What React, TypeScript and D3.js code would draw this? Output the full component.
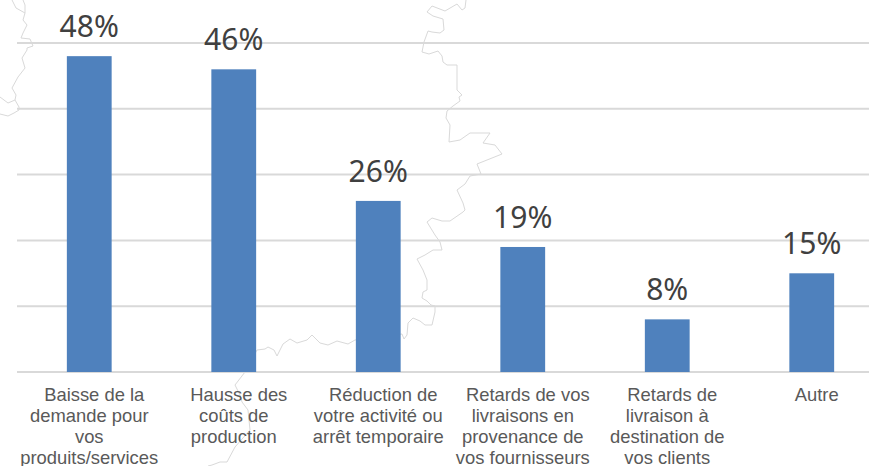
import React from 'react'
import * as d3 from 'd3'

const categories = [
  ['Baisse de la', 'demande pour', 'vos', 'produits/services'],
  ['Hausse des', 'coûts de', 'production'],
  ['Réduction de', 'votre activité ou', 'arrêt temporaire'],
  ['Retards de vos', 'livraisons en', 'provenance de', 'vos fournisseurs'],
  ['Retards de', 'livraison à', 'destination de', 'vos clients'],
  ['Autre'],
]
const values = [48, 46, 26, 19, 8, 15]
const gridTicks = [0, 10, 20, 30, 40, 50]

// faint map borders behind the chart, traced by hand (pixels)
const borderMain: [number, number][] = [
  [466, 0], [465, 8], [462, 10], [457, 4], [445, 11], [432, 6], [427, 12], [433, 16], [443, 19], [444, 30],
  [440, 33], [432, 32], [428, 31], [424, 42], [422, 52], [429, 54], [438, 51], [442, 56], [443, 62], [447, 65],
  [457, 65], [457, 90], [462, 95], [459, 97], [460, 101], [453, 106], [447, 111], [446, 118], [450, 125], [449, 142],
  [460, 140], [470, 133], [490, 133], [483, 143], [495, 145], [502, 154], [477, 164], [481, 174], [470, 176], [465, 184],
  [457, 190], [463, 203], [465, 210], [463, 212], [450, 221], [442, 221], [432, 218], [427, 222], [435, 235], [440, 242],
  [442, 250], [433, 250], [425, 255], [417, 259], [423, 270], [427, 280], [427, 290], [423, 292], [422, 298], [427, 301],
  [431, 305], [435, 306], [435, 312], [432, 325], [425, 325], [420, 321], [413, 318], [408, 323], [407, 335], [404, 339],
  [402, 334], [355, 340], [348, 344], [337, 341], [328, 345], [320, 343], [312, 335], [307, 340], [297, 343], [290, 339],
  [283, 344], [277, 356], [274, 350], [268, 347], [265, 349], [257, 350], [245, 372], [235, 385], [240, 395], [242, 402],
  [248, 410], [250, 430], [235, 447], [227, 462], [220, 462], [212, 465], [208, 466],
]
const borderLeft: [number, number][] = [
  [23, 0], [25, 5], [25, 13], [23, 20], [27, 25], [23, 33], [21, 38], [30, 39], [33, 46], [27, 48],
  [27, 50], [22, 58], [25, 68], [18, 77], [12, 88], [16, 95], [15, 100], [19, 107], [19, 110], [14, 113], [8, 116], [0, 114],
]
const borderLeftA: [number, number][] = [[12, 0], [16, 8], [25, 13]]
const borderLeftB: [number, number][] = [[15, 100], [8, 103], [0, 97]]

const width = 869
const height = 466

export default function App() {
  const x = d3.scaleBand<number>()
    .domain(d3.range(values.length))
    .range([17, 884])
    .paddingInner(0.69)
    .paddingOuter(0.345)

  const y = d3.scaleLinear()
    .domain([0, 50])
    .range([372, 43])

  const line = d3.line()

  return (
    <svg
      width={width}
      height={height}
      style={{ position: 'absolute', left: 0, top: 0, display: 'block', background: '#fff' }}
    >
      {[borderMain, borderLeft, borderLeftA, borderLeftB].map((b, i) => (
        <path key={i} d={line(b) || ''} fill="none" stroke="#d9d9d9" strokeWidth={1} />
      ))}

      {gridTicks.map(t => (
        <line key={t} x1={17} x2={width} y1={y(t)} y2={y(t)} stroke="#d9d9d9" strokeWidth={2} />
      ))}

      {values.map((v, i) => (
        <rect
          key={i}
          x={x(i)}
          y={y(v)}
          width={x.bandwidth()}
          height={y(0) - y(v)}
          fill="#4f81bd"
        />
      ))}

      {values.map((v, i) => (
        <text
          key={i}
          x={(x(i) as number) + x.bandwidth() / 2}
          y={y(v) - 19}
          textAnchor="middle"
          fontFamily="'Noto Sans', sans-serif"
          fontSize={30}
          fill="#404040"
        >
          {v}%
        </text>
      ))}

      {categories.map((lines, i) => (
        <text
          key={i}
          textAnchor="middle"
          fontFamily="'Liberation Sans', Arial, sans-serif"
          fontSize={18.4}
          fill="#595959"
        >
          {lines.map((l, j) => (
            <tspan
              key={j}
              // first line sits a little to the right in the original
              x={(x(i) as number) + x.bandwidth() / 2 + (j === 0 ? 5 : 0)}
              y={400.5 + j * 21.2}
            >
              {l}
            </tspan>
          ))}
        </text>
      ))}
    </svg>
  )
}
